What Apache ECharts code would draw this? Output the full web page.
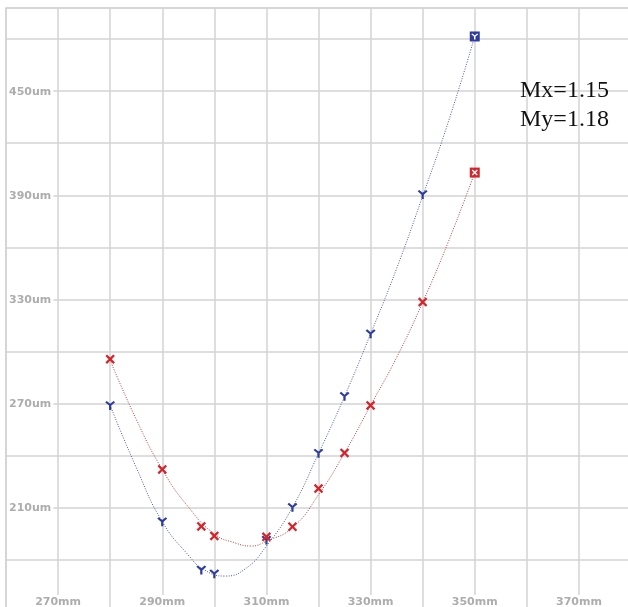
<!DOCTYPE html>
<html>
<head>
<meta charset="utf-8">
<script src="https://cdn.jsdelivr.net/npm/echarts@6/dist/echarts.min.js"></script>
<style>html,body{margin:0;padding:0;background:#fff}#c{width:628px;height:607px}</style>
</head>
<body>
<div id="c"></div>
<script>
// ---- data ----
const blueCurveX = [280, 285, 290, 295, 298, 302, 306, 310, 315, 320, 325, 330, 335, 340, 345, 350];
const blueCurve  = [269, 233.3, 202, 182.8, 174.4, 170.7, 175, 188, 210.3, 241.3, 274.2, 310.2, 347.8, 389.6, 433, 481.5];
const redCurveX  = [280, 285, 290, 295, 300, 304, 307, 310, 315, 320, 325, 330, 335, 340, 345, 350];
const redCurve   = [295, 261, 232.1, 210.5, 195, 189.8, 188, 190.8, 198.6, 217.5, 241.6, 269, 296.6, 328.4, 363.8, 403.1];

const pointX    = [280, 290, 297.5, 300, 310, 315, 320, 325, 330, 340, 350];
const bluePts   = [269, 202, 174.2, 172, 191.4, 210.3, 241.5, 274.2, 310.2, 390.5, 481.5];
const redPts    = [295.6, 232.1, 199.3, 193.8, 193.3, 199.1, 221.1, 241.6, 269, 328.5, 403.1];

const xTickLabels = [270, 290, 310, 330, 350, 370];
const yTickLabels = [210, 270, 330, 390, 450];
const notes = ['Mx=1.15', 'My=1.18'];

const RED = '#d2262c', BLUE = '#2e3c9c';
const RED_LINE = '#c0393c', BLUE_LINE = '#4a58ac';
const GRID = '#d3d3d3';

const pair = (xs, ys) => xs.map((x, i) => [x, ys[i]]);
const last = (xs, ys) => [[xs[xs.length - 1], ys[ys.length - 1]]];

const X_PATH = 'path://M0,1.7L1.7,0L5,3.3L8.3,0L10,1.7L6.7,5L10,8.3L8.3,10L5,6.7L1.7,10L0,8.3L3.3,5Z';
const Y_PATH = 'path://M0,1.5L1.6,0L5,3.2L8.4,0L10,1.5L6.1,5.2L6.1,10L3.9,10L3.9,5.2Z';

const labelStyle = {
  color: '#adadad', fontFamily: 'DejaVu Sans', fontWeight: 'bold', fontSize: 11,
  backgroundColor: '#fff', padding: [2, 2, 1, 2]
};

const chart = echarts.init(document.getElementById('c'), null, {renderer: 'canvas'});
chart.setOption({
  animation: false,
  backgroundColor: '#fff',
  grid: {left: 6, top: 8, width: 625, height: 604, outerBoundsMode: 'none', containLabel: false,
         show: true, borderColor: GRID, borderWidth: 1.5},
  xAxis: {
    type: 'value', min: 260, max: 380, interval: 10,
    axisLine: {show: false}, axisTick: {show: false},
    splitLine: {show: true, lineStyle: {color: GRID, width: 1.5}},
    axisLabel: {
      inside: true, margin: 3,
      formatter: v => xTickLabels.indexOf(v) >= 0 ? '{b|' + v + 'mm}' : '',
      rich: {b: labelStyle}
    }
  },
  yAxis: {
    type: 'value', min: 150, max: 497.9, interval: 30,
    axisLine: {show: false}, axisTick: {show: false},
    splitLine: {show: true, lineStyle: {color: GRID, width: 1.5}},
    axisLabel: {
      inside: true, margin: 1,
      formatter: v => yTickLabels.indexOf(v) >= 0 ? '{b|' + v + 'um}' : '',
      rich: {b: labelStyle}
    }
  },
  series: [
    {type: 'line', data: pair(redCurveX, redCurve), smooth: 0.5, showSymbol: false, symbol: 'none',
     lineStyle: {color: RED_LINE, width: 1, type: [1, 1.5]}, z: 2},
    {type: 'line', data: pair(blueCurveX, blueCurve), smooth: 0.5, showSymbol: false, symbol: 'none',
     lineStyle: {color: BLUE_LINE, width: 1, type: [1, 1.5]}, z: 2},
    {type: 'scatter', data: pair(pointX, bluePts).slice(0, -1), symbol: Y_PATH, symbolSize: [10, 9],
     itemStyle: {color: BLUE, opacity: 1}, z: 3},
    {type: 'scatter', data: pair(pointX, redPts).slice(0, -1), symbol: X_PATH, symbolSize: 9.5,
     itemStyle: {color: RED, opacity: 1}, z: 4},
    {type: 'scatter', data: last(pointX, bluePts), symbol: 'rect', symbolSize: 10,
     itemStyle: {color: BLUE, opacity: 1}, z: 5},
    {type: 'scatter', data: last(pointX, bluePts), symbol: Y_PATH, symbolSize: [7, 6],
     itemStyle: {color: '#fff', opacity: 1}, z: 6},
    {type: 'scatter', data: last(pointX, redPts), symbol: 'rect', symbolSize: 10,
     itemStyle: {color: RED, opacity: 1}, z: 5},
    {type: 'scatter', data: last(pointX, redPts), symbol: X_PATH, symbolSize: 6,
     itemStyle: {color: '#fff', opacity: 1}, z: 6}
  ],
  graphic: notes.map((t, i) => ({
    type: 'text', left: 520, top: 79 + i * 28.5, z: 10,
    style: {text: t, font: '24px "Liberation Serif"', fill: '#111'}
  }))
});
</script>
</body>
</html>
